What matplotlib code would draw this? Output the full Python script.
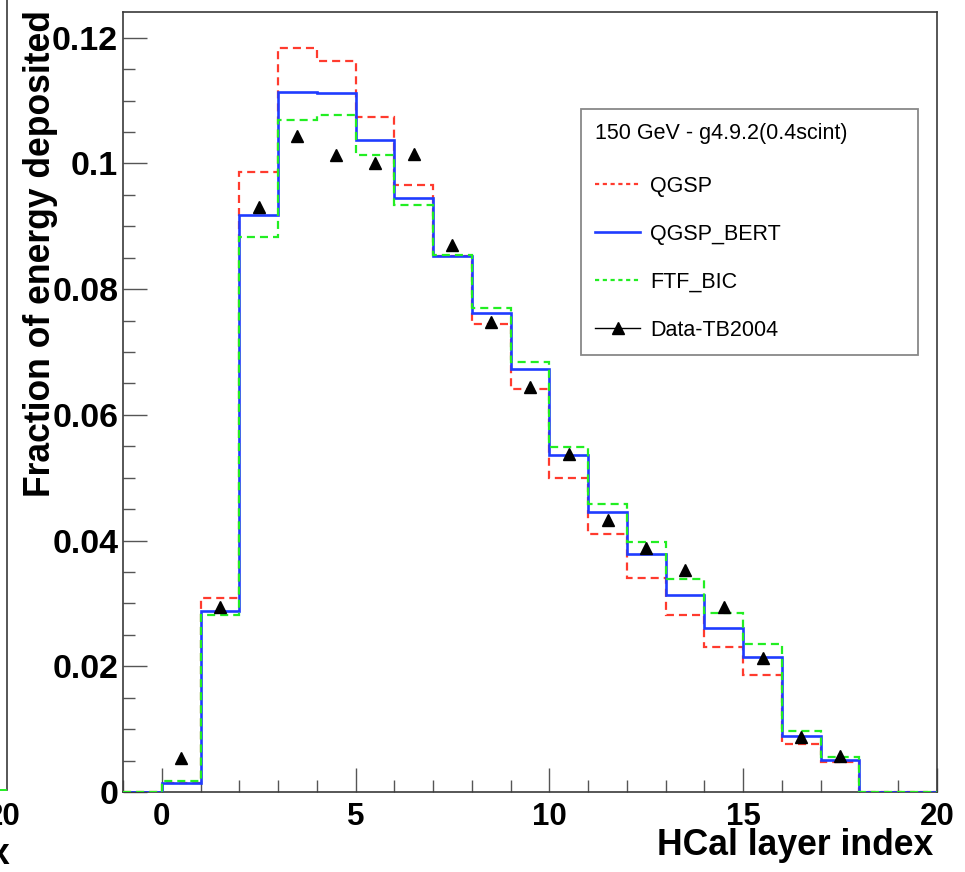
import matplotlib
matplotlib.use("Agg")
import matplotlib.pyplot as plt
from matplotlib.lines import Line2D
from matplotlib.ticker import MultipleLocator, FixedLocator
import numpy as np

plt.rcParams['font.family'] = ['Liberation Sans', 'DejaVu Sans']
plt.rcParams['lines.scale_dashes'] = False

# ---- data ----
bin_edges = list(range(-1, 21))  # -1 .. 20
qgsp = [0.0, 0.0015, 0.0309, 0.0986, 0.1184, 0.1163, 0.1074, 0.0966, 0.0852, 0.0745,
        0.0641, 0.0499, 0.0410, 0.0340, 0.0281, 0.0231, 0.0186, 0.0077, 0.0048, 0.0, 0.0]
qgsp_bert = [0.0, 0.0015, 0.0288, 0.0918, 0.1113, 0.1112, 0.1037, 0.0945, 0.0853, 0.0762,
             0.0673, 0.0536, 0.0445, 0.0378, 0.0314, 0.0261, 0.0215, 0.0089, 0.0051, 0.0, 0.0]
ftf_bic = [0.0, 0.00175, 0.0281, 0.0883, 0.1069, 0.1077, 0.1014, 0.0934, 0.0855, 0.0770,
           0.0684, 0.0549, 0.0459, 0.0398, 0.0339, 0.0284, 0.0236, 0.0097, 0.0056, 0.0, 0.0]
data_x = [0.5, 1.5, 2.5, 3.5, 4.5, 5.5, 6.5, 7.5, 8.5, 9.5, 10.5, 11.5, 12.5, 13.5, 14.5,
          15.5, 16.5, 17.5]
data_y = [0.0054, 0.0294, 0.0930, 0.1044, 0.1013, 0.1001, 0.1015, 0.0870, 0.0748, 0.0645,
          0.0537, 0.0433, 0.0388, 0.0354, 0.0294, 0.0213, 0.0087, 0.0058]
xticks = [0, 5, 10, 15, 20]
yticks = [0, 0.02, 0.04, 0.06, 0.08, 0.1, 0.12]
ytick_labels = ['0', '0.02', '0.04', '0.06', '0.08', '0.1', '0.12']
labels = ['QGSP', 'QGSP_BERT', 'FTF_BIC', 'Data-TB2004']
header = '150 GeV - g4.9.2(0.4scint)'

W, H = 965, 872
fig = plt.figure(figsize=(W / 100, H / 100), dpi=100)
ax = fig.add_axes([123 / W, (H - 792) / H, 814 / W, 780 / H])

red = '#ff3b2e'
blue = '#1f3cff'
green = '#22ee22'
dash = (0, (5.8, 3.6))

ax.stairs(qgsp, bin_edges, color=red, lw=1.6, linestyle=dash, fill=False, zorder=2)
ax.stairs(qgsp_bert, bin_edges, color=blue, lw=1.9, fill=False, zorder=3)
ax.stairs(ftf_bic, bin_edges, color=green, lw=1.6, linestyle=dash, fill=False, zorder=4)
ax.plot(data_x, data_y, linestyle='none', marker='^', color='black', ms=9, zorder=5)

ax.set_xlim(-1, 20)
ax.set_ylim(0, 0.1241)

ax.xaxis.set_major_locator(FixedLocator(xticks))
ax.xaxis.set_minor_locator(MultipleLocator(1))
ax.yaxis.set_major_locator(FixedLocator(yticks))
ax.yaxis.set_minor_locator(MultipleLocator(0.005))
ax.set_yticklabels(ytick_labels)

framec = '#3a3a3a'
for s in ax.spines.values():
    s.set_color(framec)
    s.set_linewidth(1.2)
ax.tick_params(which='both', direction='in', color='#555555', width=1.0)
ax.tick_params(axis='both', which='major', length=17)
ax.tick_params(axis='both', which='minor', length=8.5)
ax.tick_params(axis='y', which='major', pad=3.5, labelsize=24.5)
ax.tick_params(axis='x', which='major', pad=7, labelsize=22.5)
for lab in ax.get_xticklabels() + ax.get_yticklabels():
    lab.set_fontweight('bold')

ax.set_xlabel('HCal layer index', fontsize=25.6, fontweight='bold', ha='right')
ax.xaxis.set_label_coords((933 - 123) / 814, -0.046)
ax.set_ylabel('Fraction of energy deposited', fontsize=25.6, fontweight='bold')
ax.yaxis.set_label_coords((58 - 123) / 814, (792 - 254) / 780)

handles = [
    Line2D([], [], color=red, lw=1.6, linestyle=(0, (3.0, 2.6))),
    Line2D([], [], color=blue, lw=1.9),
    Line2D([], [], color=green, lw=1.6, linestyle=(0, (3.0, 2.6))),
    Line2D([], [], color='black', lw=1.0, marker='^', ms=8),
]
x0 = (581 - 123) / 814
x1 = (918 - 123) / 814
ytop = 1 - (109 - 12) / 780
leg = ax.legend(handles, labels, title=header, loc='upper left',
                bbox_to_anchor=(x0, ytop - 0.3, x1 - x0, 0.3), mode='expand',
                fontsize=15.5, title_fontsize=15.5, alignment='left',
                handlelength=2.1, handletextpad=0.45, borderpad=0.65,
                labelspacing=1.25, fancybox=False, framealpha=1,
                edgecolor='#888888', borderaxespad=0)
leg.get_frame().set_linewidth(1.3)
leg._legend_box.sep = 23

# remnant of neighbouring panel at the left edge
fig.add_artist(Line2D([7 / W, 7 / W], [(H - 790) / H, 1.0], transform=fig.transFigure,
                      color=framec, lw=1.2))
fig.add_artist(Line2D([0, 6 / W], [(H - 790) / H, (H - 790) / H], transform=fig.transFigure,
                      color=green, lw=1.4))
fig.text(21 / W, (H - 817) / H, '20', fontsize=22.5, fontweight='bold', ha='right', va='center')
fig.text(9 / W, (H - 864) / H, 'x', fontsize=25.6, fontweight='bold', ha='right', va='baseline')

fig.savefig('out.png', dpi=100)
